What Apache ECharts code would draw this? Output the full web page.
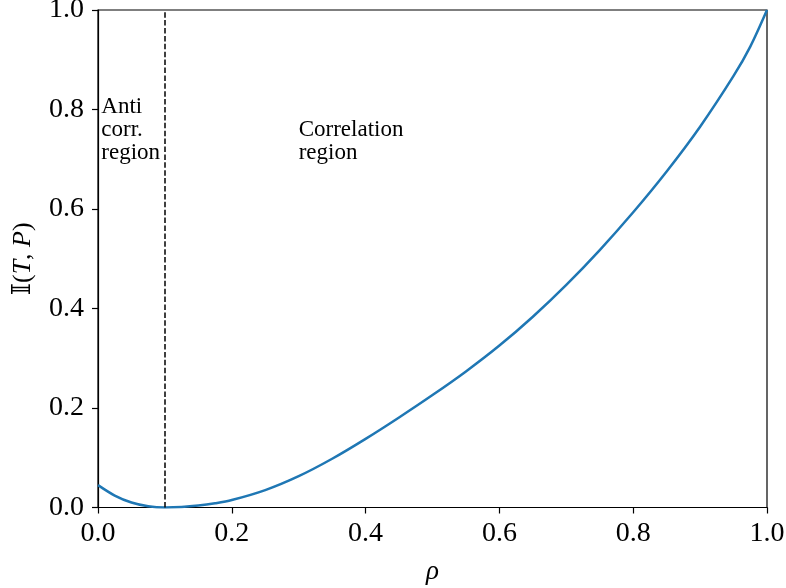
<!DOCTYPE html>
<html>
<head>
<meta charset="utf-8">
<script src="https://cdn.jsdelivr.net/npm/echarts@6/dist/echarts.min.js"></script>
<style>html,body{margin:0;padding:0;background:#fff}#c{width:786px;height:588px}</style>
</head>
<body>
<div id="c"></div>
<script>
const rho = [0, 0.025, 0.05, 0.075, 0.1, 0.125, 0.15, 0.175, 0.2, 0.25, 0.3, 0.35, 0.4, 0.45, 0.5, 0.55, 0.6, 0.65, 0.7, 0.75, 0.8, 0.85, 0.9, 0.95, 0.975, 1.0];
const info = [0.045, 0.024, 0.010, 0.0025, 0, 0.0009, 0.0038, 0.0085, 0.015, 0.035, 0.063, 0.098, 0.138, 0.181, 0.226, 0.2735, 0.3255, 0.3835, 0.4475, 0.5175, 0.5935, 0.6755, 0.7655, 0.8675, 0.9265, 1.0];
const xTicks = [0, 0.2, 0.4, 0.6, 0.8, 1.0];
const yTicks = [0, 0.2, 0.4, 0.6, 0.8, 1.0];
const boundary = 0.1;
const annotations = [
  { x: 0.005, y: 0.7, text: 'Anti\ncorr.\nregion' },
  { x: 0.3, y: 0.7, text: 'Correlation\nregion' }
];

const serif = "'Liberation Serif', 'DejaVu Serif', serif";
const chart = echarts.init(document.getElementById('c'), null, { renderer: 'canvas' });
const axisCommon = {
  type: 'value', min: 0, max: 1, interval: 0.2,
  axisLine: { show: true, lineStyle: { color: '#000', width: 1.2 } },
  axisTick: { show: true, inside: false, length: 6, lineStyle: { color: '#000', width: 1.2 } },
  splitLine: { show: false },
  axisLabel: { color: '#000', fontFamily: serif, fontSize: 28, formatter: v => v.toFixed(1) }
};
chart.setOption({
  animation: false,
  backgroundColor: '#fff',
  grid: { left: 98, right: 19, top: 10, bottom: 80.5, outerBoundsMode: 'none', containLabel: false, show: true, borderColor: '#000', borderWidth: 1.2, backgroundColor: 'transparent' },
  xAxis: Object.assign({}, axisCommon, {
    axisLabel: Object.assign({}, axisCommon.axisLabel, { margin: 12, customValues: xTicks }),
    axisTick: Object.assign({}, axisCommon.axisTick, { customValues: xTicks }),
    name: 'ρ', nameLocation: 'middle', nameGap: 51,
    nameTextStyle: { fontFamily: serif, fontSize: 27, fontStyle: 'italic', color: '#000' }
  }),
  yAxis: Object.assign({}, axisCommon, {
    axisLabel: Object.assign({}, axisCommon.axisLabel, { margin: 14, customValues: yTicks }),
    axisTick: Object.assign({}, axisCommon.axisTick, { customValues: yTicks }),
    name: '{n|𝕀(}{i|T}{n|, }{i|P}{n|)}', nameLocation: 'middle', nameGap: 62, nameRotate: 90,
    nameTextStyle: {
      color: '#000',
      rich: {
        n: { fontFamily: serif, fontSize: 26, color: '#000' },
        i: { fontFamily: serif, fontSize: 26, fontStyle: 'italic', color: '#000' }
      }
    }
  }),
  series: [{
    type: 'line',
    data: rho.map((r, i) => [r, info[i]]),
    showSymbol: false,
    smooth: 0.3,
    lineStyle: { color: '#1f77b4', width: 2.5 },
    itemStyle: { color: '#1f77b4' },
    markLine: {
      silent: true, symbol: 'none', label: { show: false },
      lineStyle: { color: '#000', type: [5.5, 2.4], width: 1.5 },
      data: [[{ coord: [boundary, 0] }, { coord: [boundary, 1] }]]
    },
    z: 3
  }]
});
const g = annotations.map(a => {
  const p = chart.convertToPixel({ gridIndex: 0 }, [a.x, a.y]);
  return {
    type: 'text', x: p[0], y: p[1] + 5,
    style: { text: a.text, font: '23px ' + serif, fill: '#000', textVerticalAlign: 'bottom', lineHeight: 23 }
  };
});
chart.setOption({ graphic: g });
</script>
</body>
</html>
